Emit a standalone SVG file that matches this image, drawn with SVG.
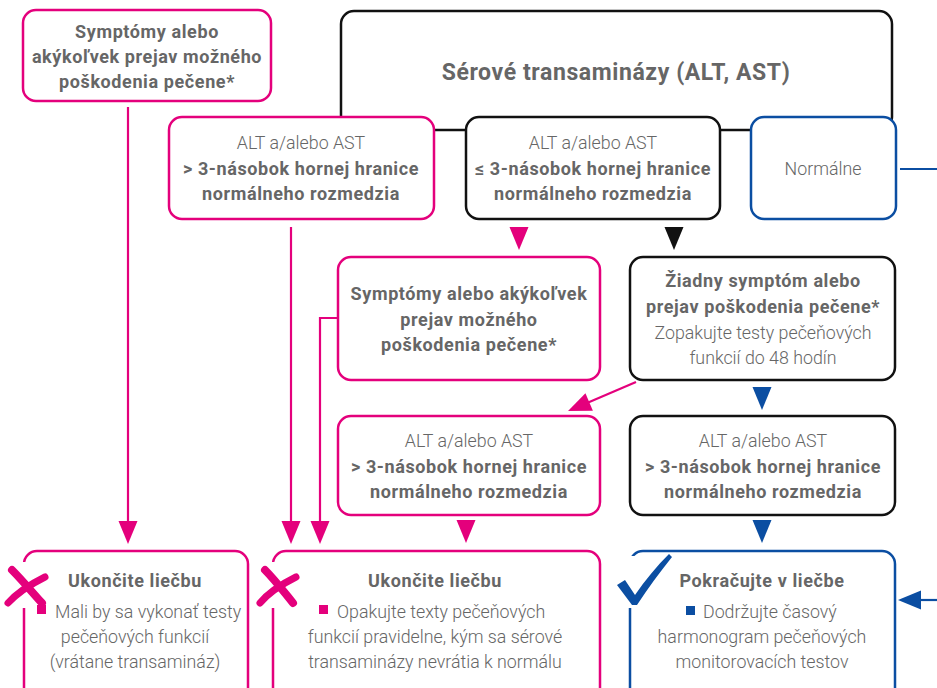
<svg xmlns="http://www.w3.org/2000/svg" xmlns:xlink="http://www.w3.org/1999/xlink" width="937" height="688" viewBox="0 0 937 688">
<style>
.bm{fill:#fff;stroke:#E4007C;stroke-width:2.5}
.bk{fill:#fff;stroke:#111;stroke-width:2.5}
.bb{fill:#fff;stroke:#0B4EA2;stroke-width:2.5}
text{font-family:Roboto,"Liberation Sans",sans-serif;font-size:17.8px;text-anchor:middle}
.b{font-weight:700;fill:#666;font-size:18px;letter-spacing:0.6px}
.r{font-weight:300;fill:#666}
.t{font-size:23px;letter-spacing:0.6px}
.lm{fill:none;stroke:#E4007C;stroke-width:2.2}
.lb{fill:none;stroke:#0B4EA2;stroke-width:2.2}
.fm{fill:#E4007C}
.fk{fill:#111}
.fb{fill:#0B4EA2}
</style>
<defs>
<path id="tri" d="M-9.5,-23 L9.5,-23 L0,0 Z"/>
</defs>
<rect width="937" height="688" fill="#fff"/>

<g id="serum">
<rect x="341" y="11" width="551" height="119" rx="13" fill="#fff" stroke="#111" stroke-width="2.5"/>
<text class="b t" x="616" y="80">Sérové transaminázy (ALT, AST)</text>
</g>

<g id="symptoms-top">
<rect class="bm" x="23" y="10" width="248" height="91" rx="13"/>
<text class="b" x="147" y="38">Symptómy alebo</text>
<text class="b" x="147" y="63">akýkoľvek prejav možného</text>
<text class="b" x="147" y="88">poškodenia pečene*</text>
</g>

<g id="alt-high">
<rect class="bm" x="169" y="117" width="265" height="102" rx="13"/>
<text class="r" x="301" y="149">ALT a/alebo AST</text>
<text class="b" x="301" y="175">&gt; 3-násobok hornej hranice</text>
<text class="b" x="301" y="200">normálneho rozmedzia</text>
</g>

<g id="alt-low">
<rect class="bk" x="466" y="117" width="254" height="102" rx="13"/>
<text class="r" x="593" y="149">ALT a/alebo AST</text>
<text class="b" x="593" y="175">≤ 3-násobok hornej hranice</text>
<text class="b" x="593" y="200">normálneho rozmedzia</text>
</g>

<g id="normal">
<rect class="bb" x="751" y="117" width="145" height="102" rx="13"/>
<text class="r" x="823" y="175">Normálne</text>
</g>

<g id="symptoms-mid">
<rect class="bm" x="338" y="257" width="262" height="123" rx="13"/>
<text class="b" x="469" y="300">Symptómy alebo akýkoľvek</text>
<text class="b" x="469" y="326">prejav možného</text>
<text class="b" x="469" y="351">poškodenia pečene*</text>
</g>

<g id="no-symptoms">
<rect class="bk" x="630" y="257" width="265" height="123" rx="13"/>
<text class="b" x="763" y="287">Žiadny symptóm alebo</text>
<text class="b" x="763" y="313">prejav poškodenia pečene*</text>
<text class="r" x="763" y="339">Zopakujte testy pečeňových</text>
<text class="r" x="763" y="364">funkcií do 48 hodín</text>
</g>

<g id="alt-high-2">
<rect class="bm" x="338" y="416" width="262" height="99" rx="13"/>
<text class="r" x="469" y="447">ALT a/alebo AST</text>
<text class="b" x="469" y="473">&gt; 3-násobok hornej hranice</text>
<text class="b" x="469" y="498">normálneho rozmedzia</text>
</g>

<g id="alt-high-3">
<rect class="bk" x="630" y="416" width="265" height="99" rx="13"/>
<text class="r" x="763" y="447">ALT a/alebo AST</text>
<text class="b" x="763" y="473">&gt; 3-násobok hornej hranice</text>
<text class="b" x="763" y="498">normálneho rozmedzia</text>
</g>

<g id="stop-1">
<rect class="bm" x="24" y="551" width="224" height="160" rx="13"/>
<rect x="18" y="562" width="12" height="46" fill="#fff"/>
<path d="M12,570 C22,580 32,592 42,603" fill="none" stroke="#E4007C" stroke-width="8" stroke-linecap="round"/>
<path d="M45,577 C33,583 18,592 8,603" fill="none" stroke="#E4007C" stroke-width="7" stroke-linecap="round"/>
<text class="b" x="135" y="587">Ukončite liečbu</text>
<rect class="fm" x="37" y="605" width="9" height="9"/>
<text class="r" x="55" y="618" style="text-anchor:start">Mali by sa vykonať testy</text>
<text class="r" x="135" y="643">pečeňových funkcií</text>
<text class="r" x="135" y="668">(vrátane transamináz)</text>
</g>

<g id="stop-2">
<rect class="bm" x="273" y="551" width="327" height="160" rx="13"/>
<rect x="267" y="562" width="12" height="46" fill="#fff"/>
<path d="M265,570 C275,580 284,592 293,603" fill="none" stroke="#E4007C" stroke-width="8" stroke-linecap="round"/>
<path d="M296,577 C284,583 269,592 260,603" fill="none" stroke="#E4007C" stroke-width="7" stroke-linecap="round"/>
<text class="b" x="435" y="587">Ukončite liečbu</text>
<rect class="fm" x="319" y="605" width="9" height="9"/>
<text class="r" x="337" y="618" style="text-anchor:start">Opakujte texty pečeňových</text>
<text class="r" x="435" y="643">funkcií pravidelne, kým sa sérové</text>
<text class="r" x="435" y="668">transaminázy nevrátia k normálu</text>
</g>

<g id="continue">
<rect class="bb" x="630" y="551" width="265" height="160" rx="13"/>
<rect x="624" y="556" width="12" height="52" fill="#fff"/>
<path class="fb" d="M617,585 L625,580 L635,595 C645,580 657,566 669,554 L672,557 C660,572 648,588 637,605 L632,605 Z"/>
<text class="b" x="762" y="587">Pokračujte v liečbe</text>
<rect class="fb" x="686" y="606" width="9" height="9"/>
<text class="r" x="703" y="618" style="text-anchor:start">Dodržujte časový</text>
<text class="r" x="762" y="643">harmonogram pečeňových</text>
<text class="r" x="762" y="668">monitorovacích testov</text>
</g>

<g id="connectors">
<path class="lm" d="M128,107 V522"/>
<use href="#tri" class="fm" x="128" y="544"/>
<path class="lm" d="M291,227 V522"/>
<use href="#tri" class="fm" x="291" y="544"/>
<path class="lm" d="M338,318 H320 V522"/>
<use href="#tri" class="fm" x="320" y="544"/>
<use href="#tri" class="fm" x="519" y="250"/>
<use href="#tri" class="fk" x="674" y="250"/>
<path class="lm" d="M636,382 L587,403"/>
<use href="#tri" class="fm" transform="translate(568,411) rotate(66.9)"/>
<use href="#tri" class="fb" x="762" y="410"/>
<use href="#tri" class="fm" x="466" y="543"/>
<use href="#tri" class="fb" x="762" y="543"/>
<path class="lb" d="M900,169 H937"/>
<path class="lb" d="M937,600 H920"/>
<use href="#tri" class="fb" transform="translate(898,600) rotate(90)"/>
</g>
</svg>
